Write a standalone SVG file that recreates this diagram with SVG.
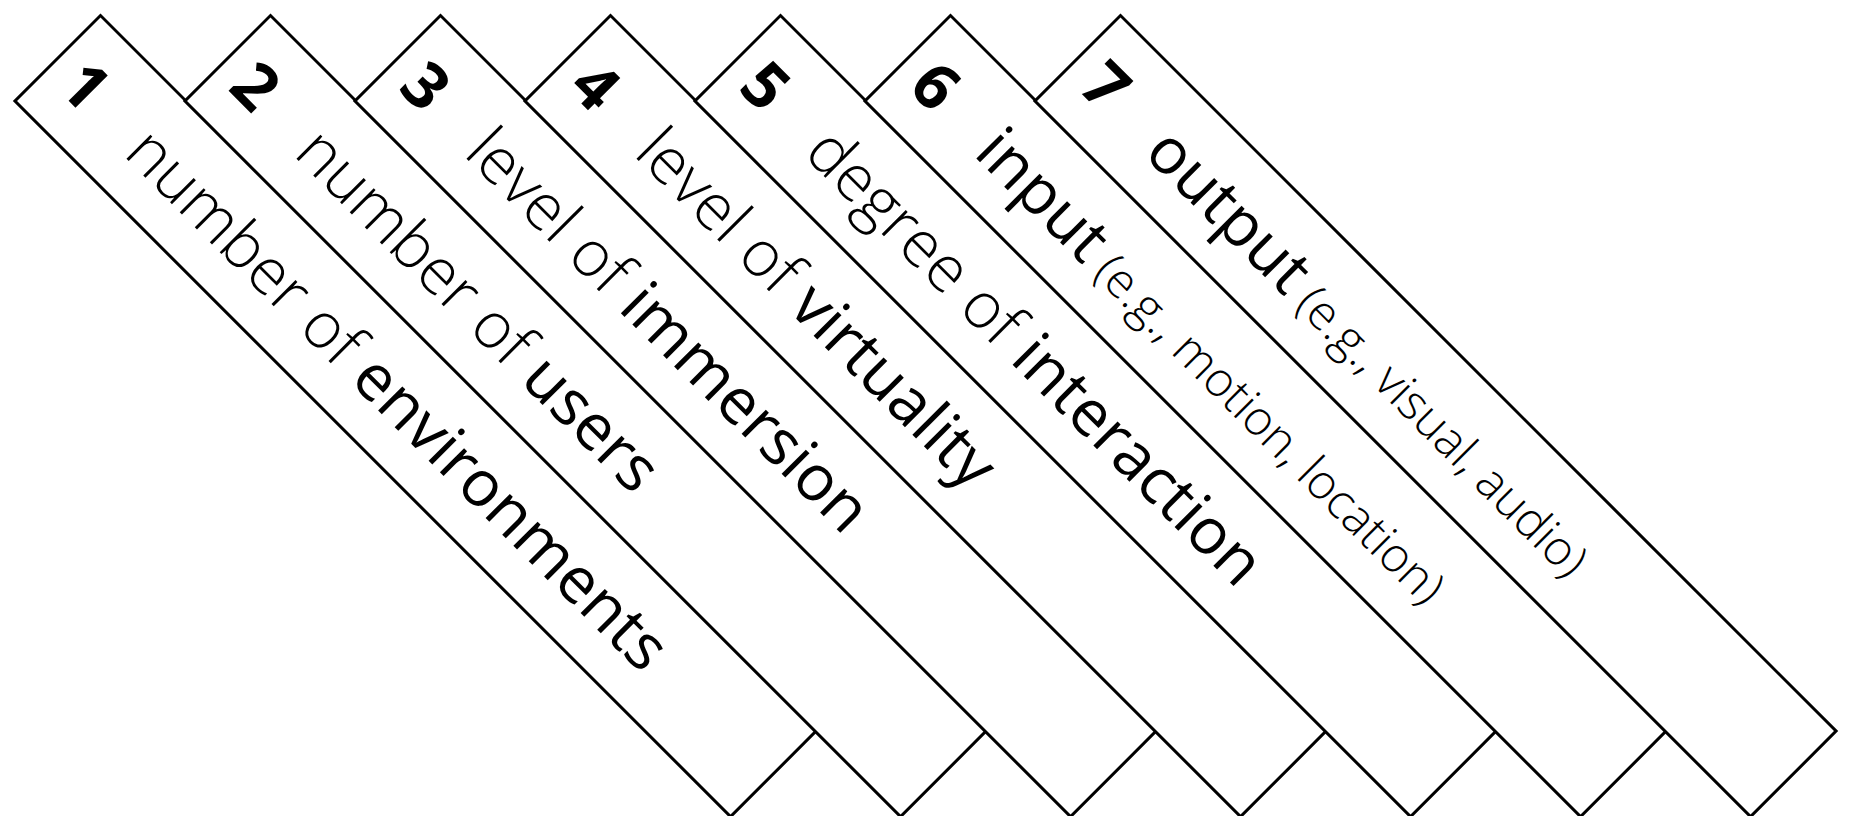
<svg xmlns="http://www.w3.org/2000/svg" width="1849" height="816" viewBox="0 0 1849 816">
<style>
.box{fill:#fff;stroke:#000;stroke-width:3;stroke-linejoin:miter}
.t{font-family:"Open Sans","Noto Sans",sans-serif;font-size:64px;fill:#000}
.num{font-weight:700}
.lt{font-weight:300}
.rg{font-weight:400}
.sm{font-weight:300;font-size:48px}
</style>
<rect width="1849" height="816" fill="#fff"/>
<g id="box1" transform="translate(100.5,15.5) rotate(45)">
<rect class="box" x="0" y="0" width="1012" height="121"/>
<text class="t num" x="21" y="83">1</text>
<text class="t" x="114" y="83"><tspan class="lt">number of </tspan><tspan class="rg">environments</tspan></text>
</g>
<g id="box2" transform="translate(270.5,15.5) rotate(45)">
<rect class="box" x="0" y="0" width="1012" height="121"/>
<text class="t num" x="21" y="83">2</text>
<text class="t" x="114" y="83"><tspan class="lt">number of </tspan><tspan class="rg">users</tspan></text>
</g>
<g id="box3" transform="translate(440.5,15.5) rotate(45)">
<rect class="box" x="0" y="0" width="1012" height="121"/>
<text class="t num" x="21" y="83">3</text>
<text class="t" x="114" y="83"><tspan class="lt">level of </tspan><tspan class="rg">immersion</tspan></text>
</g>
<g id="box4" transform="translate(610.5,15.5) rotate(45)">
<rect class="box" x="0" y="0" width="1012" height="121"/>
<text class="t num" x="21" y="83">4</text>
<text class="t" x="114" y="83"><tspan class="lt">level of </tspan><tspan class="rg">virtuality</tspan></text>
</g>
<g id="box5" transform="translate(780.5,15.5) rotate(45)">
<rect class="box" x="0" y="0" width="1012" height="121"/>
<text class="t num" x="21" y="83">5</text>
<text class="t" x="114" y="83"><tspan class="lt">degree of </tspan><tspan class="rg">interaction</tspan></text>
</g>
<g id="box6" transform="translate(950.5,15.5) rotate(45)">
<rect class="box" x="0" y="0" width="1012" height="121"/>
<text class="t num" x="21" y="83">6</text>
<text class="t" x="114" y="83"><tspan class="rg">input</tspan><tspan class="sm"> (e.g., motion, location)</tspan></text>
</g>
<g id="box7" transform="translate(1120.5,15.5) rotate(45)">
<rect class="box" x="0" y="0" width="1012" height="121"/>
<text class="t num" x="21" y="83">7</text>
<text class="t" x="114" y="83"><tspan class="rg">output</tspan><tspan class="sm"> (e.g., visual, audio)</tspan></text>
</g>
<g id="connectors"></g>
</svg>
